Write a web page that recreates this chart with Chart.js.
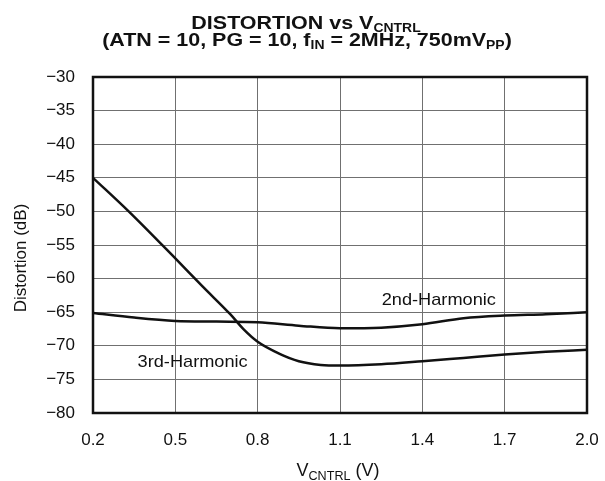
<!DOCTYPE html>
<html><head><meta charset="utf-8">
<script src="https://cdn.jsdelivr.net/npm/chart.js@4/dist/chart.umd.min.js"></script>
<style>html,body{margin:0;padding:0;background:#fff}</style>
</head><body>
<canvas id="c" width="605" height="481"></canvas>
<script>
const xTicks = [0.2, 0.5, 0.8, 1.1, 1.4, 1.7, 2.0];
const yTicks = [-30, -35, -40, -45, -50, -55, -60, -65, -70, -75, -80];
const secondX = [0.2, 0.35, 0.5, 0.65, 0.8, 0.95, 1.1, 1.25, 1.4, 1.55, 1.7, 1.85, 2.0];
const secondY = [-65.1, -65.8, -66.3, -66.4, -66.5, -67.0, -67.4, -67.3, -66.8, -65.9, -65.5, -65.3, -65.0];
const thirdX = [0.2, 0.33, 0.5, 0.6, 0.7, 0.75, 0.8, 0.88, 0.95, 1.03, 1.1, 1.25, 1.4, 1.55, 1.7, 1.85, 2.0];
const thirdY = [-45, -50, -57, -61.2, -65.3, -67.6, -69.4, -71.2, -72.3, -72.85, -72.95, -72.75, -72.3, -71.8, -71.3, -70.9, -70.6];
const seriesNames = ['2nd-Harmonic', '3rd-Harmonic'];

const toPts = (xs, ys) => xs.map((x, i) => ({x: x, y: ys[i]}));
const FONT = '"Liberation Sans", Arial, Helvetica, sans-serif';

function drawRich(ctx, parts, cx, y, size, bold, subRatio, subDy, stretch) {
  const w = bold ? 'bold ' : '';
  let total = 0;
  parts.forEach(p => {
    ctx.font = w + (p.sub ? size * subRatio : size) + 'px ' + FONT;
    p.w = ctx.measureText(p.t).width;
    total += p.w;
  });
  ctx.save();
  ctx.translate(cx, y);
  ctx.scale(stretch, 1);
  let x = -total / 2;
  ctx.textAlign = 'left';
  ctx.textBaseline = 'alphabetic';
  ctx.fillStyle = '#111';
  parts.forEach(p => {
    ctx.font = w + (p.sub ? size * subRatio : size) + 'px ' + FONT;
    ctx.fillText(p.t, x, p.sub ? subDy : 0);
    x += p.w;
  });
  ctx.restore();
}

const decor = {
  id: 'decor',
  afterDatasetsDraw(chart) {
    const ctx = chart.ctx, a = chart.chartArea;
    const xs = chart.scales.x, ys = chart.scales.y;
    ctx.save();
    ctx.strokeStyle = '#111';
    ctx.lineWidth = 2.5;
    ctx.strokeRect(a.left, a.top, a.right - a.left, a.bottom - a.top);
    // series labels
    drawRich(ctx, [{t: seriesNames[0]}], xs.getPixelForValue(1.46), ys.getPixelForValue(-63.9), 17, false, 1, 0, 1.07);
    drawRich(ctx, [{t: seriesNames[1]}], xs.getPixelForValue(0.563), ys.getPixelForValue(-73.15), 17, false, 1, 0, 1.07);
    // y title
    ctx.save();
    ctx.translate(26, 258);
    ctx.rotate(-Math.PI / 2);
    ctx.fillStyle = '#111';
    ctx.font = '17px ' + FONT;
    ctx.textAlign = 'center';
    ctx.fillText('Distortion (dB)', 0, 0);
    ctx.restore();
    // x title
    drawRich(ctx, [{t: 'V'}, {t: 'CNTRL', sub: true}, {t: ' (V)'}], 338, 476, 18, false, 0.7, 4, 1);
    // main title
    drawRich(ctx, [{t: 'DISTORTION vs V'}, {t: 'CNTRL', sub: true}], 306, 29, 18.5, true, 0.65, 2.5, 1.16);
    drawRich(ctx, [{t: '(ATN = 10, PG = 10, f'}, {t: 'IN', sub: true}, {t: ' = 2MHz, 750mV'}, {t: 'PP', sub: true}, {t: ')'}], 307, 46, 18.5, true, 0.65, 2.5, 1.16);
    ctx.restore();
  }
};

new Chart(document.getElementById('c'), {
  type: 'line',
  data: {
    datasets: [
      {label: seriesNames[0], data: toPts(secondX, secondY), borderColor: '#111', borderWidth: 2.5, pointRadius: 0, tension: 0.4, cubicInterpolationMode: 'monotone', fill: false},
      {label: seriesNames[1], data: toPts(thirdX, thirdY), borderColor: '#111', borderWidth: 2.5, pointRadius: 0, tension: 0.4, cubicInterpolationMode: 'monotone', fill: false}
    ]
  },
  options: {
    responsive: false,
    animation: false,
    devicePixelRatio: 1,
    layout: {padding: {top: 77, right: 18, left: 0, bottom: 0}},
    plugins: {legend: {display: false}, title: {display: false}, tooltip: {enabled: false}},
    scales: {
      x: {
        type: 'linear', min: 0.2, max: 2.0,
        afterBuildTicks: s => { s.ticks = xTicks.map(v => ({value: v})); },
        afterFit: s => { s.height = 68; s.paddingLeft = 0; s.paddingRight = 0; },
        grid: {color: '#707070', lineWidth: 1, drawTicks: false},
        border: {display: false},
        ticks: {padding: 17, color: '#111', font: {size: 17, family: FONT}, callback: v => Number(v).toFixed(1)}
      },
      y: {
        type: 'linear', min: -80, max: -30,
        afterBuildTicks: s => { s.ticks = yTicks.map(v => ({value: v})); },
        afterFit: s => { s.width = 93; s.paddingTop = 0; s.paddingBottom = 0; },
        grid: {color: '#707070', lineWidth: 1, drawTicks: false},
        border: {display: false},
        ticks: {padding: 18, color: '#111', font: {size: 17, family: FONT}, callback: v => String(v).replace('-', '\u2212')}
      }
    }
  },
  plugins: [decor]
});
</script>
</body></html>
